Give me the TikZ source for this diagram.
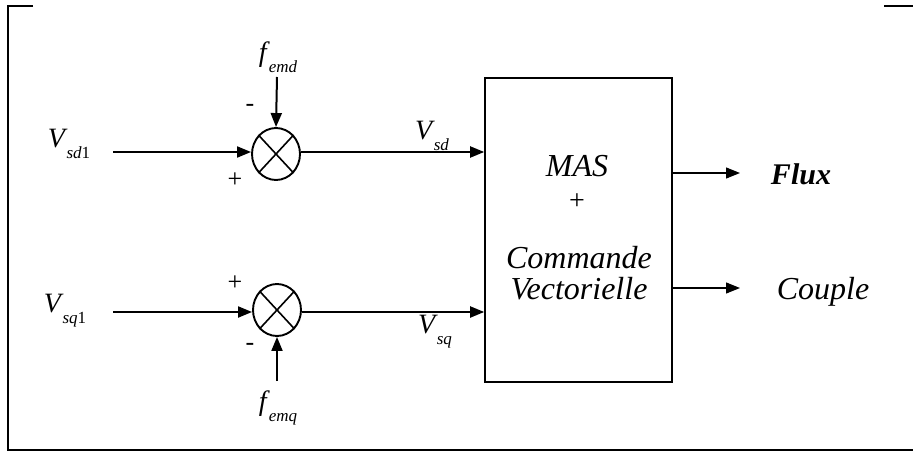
\documentclass[tikz,border=0pt]{standalone}
\usepackage{fontspec}
\setmainfont{Liberation Serif}
\usetikzlibrary{arrows.meta,shapes.geometric}
\newcommand{\sigl}[2]{\textit{#1}\kern-1pt\raisebox{-0.4em}{\fontsize{17}{17}\selectfont #2}}
\tikzset{
  sumj/.style={draw,ellipse,line width=1.9pt,minimum width=48pt,minimum height=52pt,inner sep=0pt},
  sig/.style={line width=2pt,-{Triangle[length=14pt,width=11pt]}},
  osig/.style={line width=1.2pt,-{Triangle[length=14pt,width=11pt]}},
  lab/.style={font=\fontsize{28}{28}\selectfont,inner sep=0pt},
  sgn/.style={font=\fontsize{26}{26}\selectfont,inner sep=0pt},
  btxt/.style={font=\fontsize{32}{32}\selectfont\itshape,inner sep=0pt},
  frame/.style={line width=2.6pt}
}
\begin{document}
\begin{tikzpicture}[x=1pt,y=-1pt]
\useasboundingbox (0,0) rectangle (913,452);
% frame
\draw[frame] (33,6) -- (8,6) -- (8,450) -- (913,450);
\draw[frame] (884,6) -- (913,6);
% summing junctions
\node[sumj] (s1) at (276,154) {};
\node[sumj] (s2) at (277,310) {};
\foreach \s in {s1,s2}{
  \draw[line width=1.6pt] (\s.north east) -- (\s.south west);
  \draw[line width=1.6pt] (\s.north west) -- (\s.south east);
}
% block
\node[draw,line width=1.6pt,minimum width=187pt,minimum height=304pt,inner sep=0pt] (blk) at (578.5,230) {};
\node[btxt] (mas) at (577,166) {MAS};
\node[btxt,font=\fontsize{28}{28}\selectfont] (plus) at (577,202) {+};
\node[btxt] (cmd) at (579,258) {Commande};
\node[btxt] (vec) at (579,289) {Vectorielle};
% inputs
\coordinate (in1) at (113,152);
\coordinate (in2) at (113,312);
\coordinate (fd) at (277,77);
\coordinate (fq) at (277,381);
\node[lab] (vsd1) at (69,144) {\sigl{V}{\textit{sd}1}};
\node[lab] (vsq1) at (65,311) {\sigl{V}{\textit{sq}1}};
\node[lab] (femd) at (278,57) {\sigl{f}{\textit{emd}}};
\node[lab] (femq) at (278,408) {\sigl{f}{\textit{emq}}};
\draw[sig] (in1) -- (s1.west|-in1);
\draw[sig] (in2) -- (s2.west|-in2);
\draw[sig] (fd) -- (s1.north);
\draw[sig] (fq) -- (s2.south);
\node[sgn] (p1) at (235,180) {+};
\node[sgn] (m1) at (250,108) {-};
\node[sgn] (p2) at (235,283) {+};
\node[sgn] (m2) at (250,347) {-};
% to block
\draw[sig] (s1.east|-in1) -- (blk.west|-in1);
\draw[sig] (s2.east|-in2) -- (blk.west|-in2);
\node[lab] (vsd) at (432,136) {\sigl{V}{\textit{sd}}};
\node[lab] (vsq) at (435,332) {\sigl{V}{\textit{sq}}};
% outputs
\coordinate (o1) at (740,173);
\coordinate (o2) at (740,288);
\draw[osig] (blk.east|-o1) -- (o1);
\draw[osig] (blk.east|-o2) -- (o2);
\node[btxt,font=\fontsize{30}{30}\selectfont\bfseries\itshape] (flux) at (801,174) {Flux};
\node[btxt,font=\fontsize{32}{32}\selectfont\itshape] (cpl) at (823,292) {Couple};
\end{tikzpicture}
\end{document}
